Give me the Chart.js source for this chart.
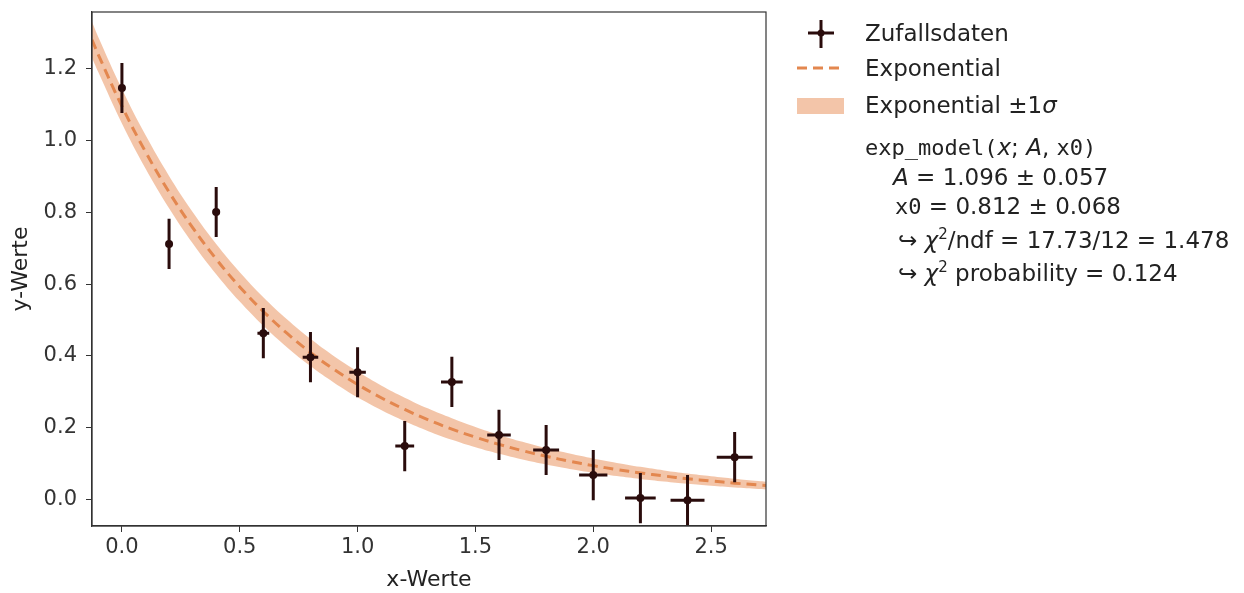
<!DOCTYPE html>
<html lang="de">
<head>
    <meta charset="UTF-8">
    <title>Exponential Fit</title>
    <style>
        body {
            margin: 0;
            padding: 0;
            background: #fff;
            font-family: "DejaVu Sans", sans-serif;
        }
        #wrap {
            position: relative;
            width: 1244px;
            height: 593px;
        }
        #chart-container {
            position: absolute;
            left: 0;
            top: 0;
            width: 780px;
            height: 593px;
        }
        #legend {
            position: absolute;
            left: 0;
            top: 0;
            width: 1244px;
            height: 593px;
            pointer-events: none;
            color: #222;
            font-size: 23px;
        }
        .row {
            position: absolute;
            white-space: nowrap;
            line-height: 24px;
        }
        .mono { font-family: "DejaVu Sans Mono", monospace; font-size: 22px; }
        .it { font-style: italic; }
        sup { font-size: 15px; line-height: 0; }
    </style>
</head>
<body>
<div id="wrap">
    <div id="chart-container">
        <canvas id="fitChart" width="780" height="593"></canvas>
    </div>
    <div id="legend">
        <svg class="row" style="left:806px;top:19px" width="30" height="30">
            <line x1="15" y1="1" x2="15" y2="29" stroke="#2a0c0c" stroke-width="3"/>
            <line x1="2" y1="14" x2="28" y2="14" stroke="#2a0c0c" stroke-width="3"/>
            <circle cx="15" cy="14" r="3.5" fill="#2a0c0c"/>
        </svg>
        <div class="row" style="left:865px;top:21px">Zufallsdaten</div>
        <svg class="row" style="left:795px;top:62px" width="52" height="12">
            <line x1="2" y1="6" x2="50" y2="6" stroke="#e3874f" stroke-width="3" stroke-dasharray="10,6"/>
        </svg>
        <div class="row" style="left:865px;top:56px">Exponential</div>
        <div class="row" style="left:797px;top:98px;width:47px;height:16px;background:rgba(233,150,98,0.55)"></div>
        <div class="row" style="left:865px;top:93px">Exponential ±1<span class="it">σ</span></div>
        <div class="row" style="left:865px;top:135px"><span class="mono">exp_model(</span><span class="it">x</span>; <span class="it">A</span>, <span class="mono">x0)</span></div>
        <div class="row" style="left:893px;top:165px"><span class="it">A</span> = 1.096 ± 0.057</div>
        <div class="row" style="left:895px;top:194px"><span class="mono">x0</span> = 0.812 ± 0.068</div>
        <div class="row" style="left:898px;top:228px">↪ <span class="it">χ</span><sup>2</sup>/ndf = 17.73/12 = 1.478</div>
        <div class="row" style="left:898px;top:261px">↪ <span class="it">χ</span><sup>2</sup> probability = 0.124</div>
    </div>
</div>

<script src="https://cdn.jsdelivr.net/npm/chart.js"></script>
<script>
    // measured points
    var xVals = [0.0, 0.2, 0.4, 0.6, 0.8, 1.0, 1.2, 1.4, 1.6, 1.8, 2.0, 2.2, 2.4, 2.6];
    var yVals = [1.147, 0.712, 0.801, 0.463, 0.396, 0.354, 0.148, 0.327, 0.179, 0.137, 0.067, 0.003, -0.003, 0.117];
    var yErrs = [0.07, 0.07, 0.07, 0.07, 0.07, 0.07, 0.07, 0.07, 0.07, 0.07, 0.07, 0.07, 0.07, 0.07];
    var xErrs = [0.004, 0.01, 0.015, 0.025, 0.033, 0.035, 0.04, 0.046, 0.05, 0.055, 0.06, 0.065, 0.072, 0.076];

    // fitted model curve and its 1 sigma band
    var curveX = [-0.127, -0.1, 0.0, 0.1, 0.2, 0.3, 0.4, 0.5, 0.6, 0.7, 0.8, 0.9, 1.0, 1.1, 1.2, 1.3, 1.4, 1.5, 1.6, 1.7, 1.8, 1.9, 2.0, 2.1, 2.2, 2.3, 2.4, 2.5, 2.6, 2.7, 2.733];
    var curveY = [1.2816, 1.2397, 1.096, 0.969, 0.8567, 0.7575, 0.6697, 0.5921, 0.5235, 0.4628, 0.4092, 0.3618, 0.3199, 0.2828, 0.2501, 0.221, 0.1955, 0.1728, 0.1528, 0.1351, 0.1194, 0.1056, 0.0934, 0.0826, 0.073, 0.0645, 0.057, 0.0505, 0.0446, 0.0394, 0.0378];
    var bandErr = [0.05, 0.049, 0.048, 0.0465, 0.045, 0.0435, 0.042, 0.041, 0.04, 0.039, 0.038, 0.037, 0.036, 0.0345, 0.033, 0.0315, 0.03, 0.0282, 0.0264, 0.0247, 0.023, 0.0214, 0.0198, 0.0184, 0.017, 0.0156, 0.0144, 0.0133, 0.0122, 0.0111, 0.0108];

    var xTicks = [0.0, 0.5, 1.0, 1.5, 2.0, 2.5];
    var yTicks = [0.0, 0.2, 0.4, 0.6, 0.8, 1.0, 1.2];

    var pointColor = '#2a0c0c';

    var points = xVals.map(function (x, i) { return {x: x, y: yVals[i]}; });
    var curve = curveX.map(function (x, i) { return {x: x, y: curveY[i]}; });
    var upper = curveX.map(function (x, i) { return {x: x, y: curveY[i] + bandErr[i]}; });
    var lower = curveX.map(function (x, i) { return {x: x, y: curveY[i] - bandErr[i]}; });

    var errorBars = {
        id: 'errorBars',
        afterDatasetsDraw: function (chart) {
            var ctx = chart.ctx;
            var xs = chart.scales.x, ys = chart.scales.y;
            ctx.save();
            ctx.strokeStyle = pointColor;
            ctx.lineWidth = 3;
            for (var i = 0; i < xVals.length; i++) {
                var px = xs.getPixelForValue(xVals[i]);
                var py = ys.getPixelForValue(yVals[i]);
                ctx.beginPath();
                ctx.moveTo(px, ys.getPixelForValue(yVals[i] - yErrs[i]));
                ctx.lineTo(px, ys.getPixelForValue(yVals[i] + yErrs[i]));
                ctx.moveTo(xs.getPixelForValue(xVals[i] - xErrs[i]), py);
                ctx.lineTo(xs.getPixelForValue(xVals[i] + xErrs[i]), py);
                ctx.stroke();
            }
            // frame like matplotlib spines
            var a = chart.chartArea;
            ctx.strokeStyle = '#333';
            ctx.lineWidth = 1.2;
            ctx.strokeRect(a.left, a.top, a.right - a.left, a.bottom - a.top);
            ctx.restore();
        }
    };

    var ctx = document.getElementById('fitChart').getContext('2d');
    var fitChart = new Chart(ctx, {
        type: 'line',
        data: {
            datasets: [
                {
                    label: 'Zufallsdaten',
                    data: points,
                    showLine: false,
                    pointRadius: 4,
                    pointBackgroundColor: pointColor,
                    pointBorderColor: pointColor,
                    pointBorderWidth: 0
                },
                {
                    label: 'Exponential',
                    data: curve,
                    borderColor: '#e3874f',
                    borderWidth: 3,
                    borderDash: [10, 6],
                    pointRadius: 0,
                    tension: 0.4,
                    fill: false
                },
                {
                    label: 'Exponential +1s',
                    data: upper,
                    borderWidth: 0,
                    borderColor: 'rgba(0,0,0,0)',
                    pointRadius: 0,
                    tension: 0.4,
                    fill: '+1',
                    backgroundColor: 'rgba(233,150,98,0.55)'
                },
                {
                    label: 'Exponential -1s',
                    data: lower,
                    borderWidth: 0,
                    borderColor: 'rgba(0,0,0,0)',
                    pointRadius: 0,
                    tension: 0.4,
                    fill: false
                }
            ]
        },
        options: {
            responsive: false,
            animation: false,
            layout: { padding: { left: 0, top: 12, right: 14, bottom: 0 } },
            plugins: {
                legend: { display: false },
                tooltip: { enabled: false }
            },
            scales: {
                x: {
                    type: 'linear',
                    min: -0.127,
                    max: 2.733,
                    afterBuildTicks: function (s) { s.ticks = xTicks.map(function (v) { return {value: v}; }); },
                    afterFit: function (s) { s.height = 67; s.paddingLeft = 0; s.paddingRight = 0; },
                    ticks: {
                        color: '#333',
                        font: { family: 'DejaVu Sans', size: 21 },
                        padding: 3,
                        maxRotation: 0,
                        callback: function (v) { return v.toFixed(1); }
                    },
                    grid: { display: true, drawOnChartArea: false, drawTicks: true, tickLength: 6, color: '#333' },
                    border: { display: true, color: '#333', width: 1.2 },
                    title: { display: true, text: 'x-Werte', color: '#222', font: { family: 'DejaVu Sans', size: 22 }, padding: { top: 0, bottom: 0 } }
                },
                y: {
                    type: 'linear',
                    min: -0.075,
                    max: 1.359,
                    afterBuildTicks: function (s) { s.ticks = yTicks.map(function (v) { return {value: v}; }); },
                    afterFit: function (s) { s.width = 92; s.paddingTop = 0; s.paddingBottom = 0; },
                    ticks: {
                        color: '#333',
                        font: { family: 'DejaVu Sans', size: 21 },
                        padding: 9,
                        callback: function (v) { return v.toFixed(1); }
                    },
                    grid: { display: true, drawOnChartArea: false, drawTicks: true, tickLength: 6, color: '#333' },
                    border: { display: true, color: '#333', width: 1.2 },
                    title: { display: true, text: 'y-Werte', color: '#222', font: { family: 'DejaVu Sans', size: 22 }, padding: { top: 8, bottom: 0 } }
                }
            }
        },
        plugins: [errorBars]
    });
</script>
</body>
</html>
